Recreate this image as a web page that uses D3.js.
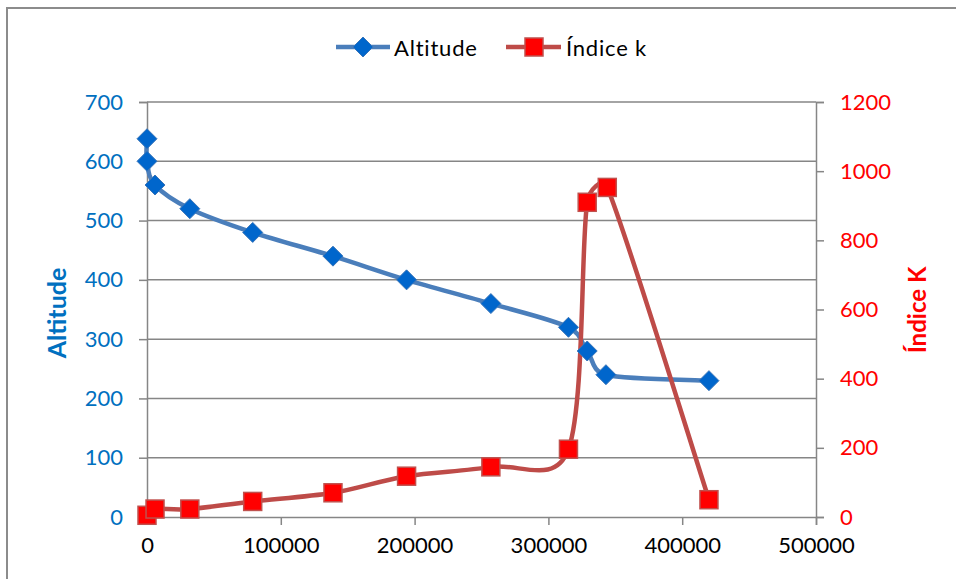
<!DOCTYPE html>
<html><head><meta charset="utf-8">
<script src="https://cdn.jsdelivr.net/npm/d3@7"></script>
<style>body{margin:0;background:#fff}svg{display:block}text{font-family:Lato,"Open Sans",sans-serif}</style>
</head><body><svg id="c" width="956" height="579"></svg>
<script>
const distance = [0, 0, 6000, 32000, 79000, 139000, 194000, 257000, 315000, 329000, 343000, 420000];
const altitude = [638, 600, 560, 520, 480, 440, 400, 360, 320, 280, 240, 230];
const kDistance = [0, 6000, 32000, 79000, 139000, 194000, 257000, 315000, 329000, 344000, 420000];
const indiceK = [5, 23, 23, 45, 70, 118, 145, 196, 910, 953, 50];
const xTicks = [0, 100000, 200000, 300000, 400000, 500000];
const leftTicks = [0, 100, 200, 300, 400, 500, 600, 700];
const rightTicks = [0, 200, 400, 600, 800, 1000, 1200];

const svg = d3.select("#c");
const L = 147, R = 816, T = 102, B = 517;
const x = d3.scaleLinear().domain([0, 500000]).range([L, R]);
const yL = d3.scaleLinear().domain([0, 700]).range([B, T]);
const yR = d3.scaleLinear().domain([0, 1200]).range([B, T]);
const grid = "#868686";

// Excel-like smoothing: Catmull-Rom (1/6) tangents, clamped to half of adjacent segment
function excelSmooth(context) {
  let pts = [];
  return {
    areaStart() {}, areaEnd() {},
    lineStart() { pts = []; },
    point(x, y) { pts.push([+x, +y]); },
    lineEnd() {
      const n = pts.length;
      if (!n) return;
      context.moveTo(pts[0][0], pts[0][1]);
      const dist = (a, b) => Math.hypot(b[0] - a[0], b[1] - a[1]);
      const off = (t, segLen) => {
        let ox = t[0] / 6, oy = t[1] / 6;
        const len = Math.hypot(ox, oy), lim = segLen * 0.5;
        if (len > lim && len > 0) { ox *= lim / len; oy *= lim / len; }
        return [ox, oy];
      };
      const cs = pts.map((p, i) => {
        const a = pts[Math.max(0, i - 1)], b = pts[Math.min(n - 1, i + 1)];
        const t = [b[0] - a[0], b[1] - a[1]];
        const ob = i > 0 ? off(t, dist(pts[i - 1], p)) : [0, 0];
        const oa = i < n - 1 ? off(t, dist(p, pts[i + 1])) : [0, 0];
        return [[p[0] - ob[0], p[1] - ob[1]], [p[0] + oa[0], p[1] + oa[1]]];
      });
      for (let i = 0; i < n - 1; i++) {
        const c1 = cs[i][1], c2 = cs[i + 1][0], p = pts[i + 1];
        context.bezierCurveTo(c1[0], c1[1], c2[0], c2[1], p[0], p[1]);
      }
    }
  };
}

// outer border
svg.append("path").attr("d", "M7,579 V8 H956").attr("fill", "none").attr("stroke", "#8c8c8c").attr("stroke-width", 2);

// gridlines
svg.append("g").selectAll("line").data(leftTicks.slice(1)).join("line")
  .attr("x1", L).attr("x2", R).attr("y1", d => yL(d)).attr("y2", d => yL(d))
  .attr("stroke", grid).attr("stroke-width", 1.5);

// axes
const fmt = d3.format("d");
const axL = svg.append("g").attr("transform", `translate(${L},0)`)
  .call(d3.axisLeft(yL).tickValues(leftTicks).tickSize(8).tickPadding(16).tickFormat(fmt));
const axR = svg.append("g").attr("transform", `translate(${R},0)`)
  .call(d3.axisRight(yR).tickValues(rightTicks).tickSize(8).tickPadding(16).tickFormat(fmt));
const axB = svg.append("g").attr("transform", `translate(0,${B})`)
  .call(d3.axisBottom(x).tickValues(xTicks).tickSize(8).tickPadding(12).tickFormat(fmt));
[axL, axR, axB].forEach(a => {
  a.select(".domain").attr("stroke", grid).attr("stroke-width", 1.5);
  a.selectAll(".tick line").attr("stroke", grid).attr("stroke-width", 1.5);
  a.selectAll("text").attr("font-size", 22).attr("font-family", "Lato");
});
axL.selectAll("text").attr("fill", "#0070C0");
axR.selectAll("text").attr("fill", "#FF0000");
axB.selectAll("text").attr("fill", "#000");

// axis titles
svg.append("text").attr("transform", "translate(66,313) rotate(-90)").attr("text-anchor", "middle")
  .attr("font-size", 25).attr("font-weight", "bold").attr("fill", "#0070C0").text("Altitude");
svg.append("text").attr("transform", "translate(926,310) rotate(-90)").attr("text-anchor", "middle")
  .attr("font-size", 24).attr("font-weight", "bold").attr("fill", "#FF0000").text("Índice K");

const altData = distance.map((d, i) => [d, altitude[i]]);
const kData = kDistance.map((d, i) => [d, indiceK[i]]);

const plot = svg.append("g");
plot.append("path").datum(altData)
  .attr("d", d3.line().x(d => x(d[0])).y(d => yL(d[1])).curve(excelSmooth))
  .attr("fill", "none").attr("stroke", "#4A7EBB").attr("stroke-width", 4.5).attr("stroke-linejoin", "round");
plot.append("path").datum(kData)
  .attr("d", d3.line().x(d => x(d[0])).y(d => yR(d[1])).curve(excelSmooth))
  .attr("fill", "none").attr("stroke", "#BE4B48").attr("stroke-width", 4.5).attr("stroke-linejoin", "round");

const diamond = "M0,-10 L10,0 L0,10 L-10,0 Z";
plot.append("g").selectAll("path").data(altData).join("path")
  .attr("transform", d => `translate(${x(d[0])},${yL(d[1])})`)
  .attr("d", diamond).attr("fill", "#0066CC").attr("stroke", "#3A75B8").attr("stroke-width", 1);
plot.append("g").selectAll("rect").data(kData).join("rect")
  .attr("x", d => x(d[0]) - 9).attr("y", d => yR(d[1]) - 9).attr("width", 18).attr("height", 18)
  .attr("fill", "#FF0000").attr("stroke", "#C0504D").attr("stroke-width", 1.5);

// legend
const lg = svg.append("g");
lg.append("line").attr("x1", 336).attr("x2", 390).attr("y1", 47).attr("y2", 47).attr("stroke", "#4A7EBB").attr("stroke-width", 4.5);
lg.append("path").attr("transform", "translate(363,47)").attr("d", diamond).attr("fill", "#0066CC").attr("stroke", "#3A75B8");
lg.append("text").attr("x", 394).attr("y", 56).attr("font-size", 22).attr("letter-spacing", 0.8).attr("fill", "#000").text("Altitude");
lg.append("line").attr("x1", 506).attr("x2", 561).attr("y1", 47).attr("y2", 47).attr("stroke", "#BE4B48").attr("stroke-width", 4.5);
lg.append("rect").attr("x", 525).attr("y", 38).attr("width", 18).attr("height", 18).attr("fill", "#FF0000").attr("stroke", "#C0504D").attr("stroke-width", 1.5);
lg.append("text").attr("x", 566).attr("y", 56).attr("font-size", 22).attr("letter-spacing", 0.8).attr("fill", "#000").text("Índice k");
</script></body></html>
